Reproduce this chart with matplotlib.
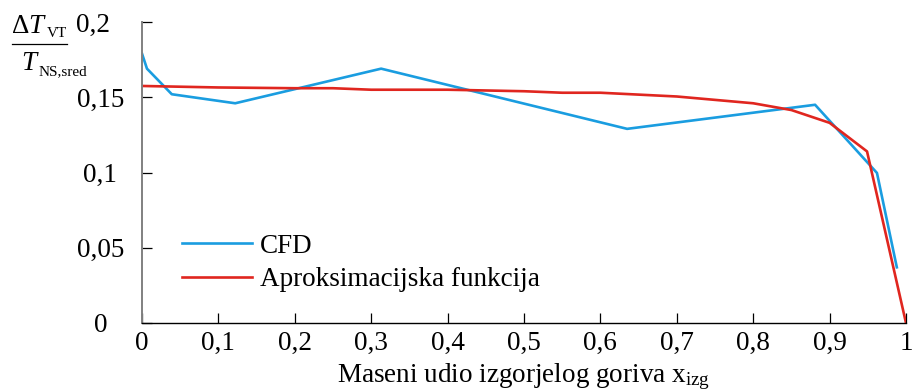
import matplotlib
matplotlib.use("Agg")
import matplotlib.pyplot as plt
from matplotlib.lines import Line2D
from matplotlib.ticker import FuncFormatter, FixedLocator
from matplotlib.transforms import ScaledTranslation

plt.rcParams['font.family'] = ['Liberation Serif', 'DejaVu Serif']
plt.rcParams['mathtext.fontset'] = 'custom'
plt.rcParams['mathtext.rm'] = 'Liberation Serif'
plt.rcParams['mathtext.it'] = 'Liberation Serif:italic'

# CFD results
cfd_x = [0.0, 0.0065, 0.039, 0.122, 0.313, 0.635, 0.881, 0.962, 0.988]
cfd_y = [0.179, 0.169, 0.152, 0.146, 0.169, 0.129, 0.145, 0.0997, 0.037]

# Approximation function
apx_x = [0.0, 0.1, 0.2, 0.25, 0.3, 0.4, 0.5, 0.55, 0.6, 0.7, 0.8, 0.85, 0.9, 0.949, 1.0]
apx_y = [0.1575, 0.1565, 0.156, 0.156, 0.155, 0.155, 0.154, 0.153, 0.153, 0.1505, 0.146, 0.1415, 0.133, 0.114, 0.0]

xticks = [0, 0.1, 0.2, 0.3, 0.4, 0.5, 0.6, 0.7, 0.8, 0.9, 1.0]
yticks = [0, 0.05, 0.1, 0.15, 0.2]

blue = '#1a9de0'
red = '#e0261f'
FS = 19.5
W, H = 915, 392

fig = plt.figure(figsize=(W / 100, H / 100), dpi=100)
ax = fig.add_axes([142/W, 1-323/H, (906-142)/W, (323-22)/H])

ax.plot(cfd_x, cfd_y, color=blue, lw=1.9, label='CFD')
ax.plot(apx_x, apx_y, color=red, lw=1.9, label='Aproksimacijska funkcija')

ax.set_xlim(0, 1)
ax.set_ylim(0, 0.2)
ax.xaxis.set_major_locator(FixedLocator(xticks))
ax.yaxis.set_major_locator(FixedLocator(yticks))

def comma(v, pos):
    return f'{v:g}'.replace('.', ',')

ax.xaxis.set_major_formatter(FuncFormatter(comma))
ax.yaxis.set_major_formatter(FuncFormatter(comma))

for s in ['top', 'right']:
    ax.spines[s].set_visible(False)
ax.spines['left'].set_color('#808080')
ax.spines['left'].set_linewidth(1.4)
ax.spines['bottom'].set_color('black')
ax.spines['bottom'].set_linewidth(1.0)

ax.tick_params(axis='both', direction='in', length=7, width=0.9, labelsize=FS, color='black')
ax.tick_params(axis='x', pad=6)
ax.tick_params(axis='y', pad=30)
for lab in ax.get_yticklabels():
    lab.set_horizontalalignment('center')

# top y label sits a little further left
top_tick = ax.yaxis.get_major_ticks()[-1]
top_tick.label1.set_transform(top_tick.label1.get_transform()
                              + ScaledTranslation(-7/100, 0, fig.dpi_scale_trans))

ax.set_xlabel(r'Maseni udio izgorjelog goriva x$_{\mathrm{izg}}$', fontsize=FS, labelpad=3.5)

# y-axis quantity written as a fraction: ΔT_VT / T_NS,sred
def px(x, y):
    return x / W, 1 - y / H

fig.text(*px(11, 33), r'$\Delta T$', fontsize=FS, va='baseline', ha='left')
fig.text(*px(47, 37), 'VT', fontsize=11, va='baseline', ha='left')
fig.add_artist(Line2D([12/W, 67/W], [1-44/H, 1-44/H], color='black', lw=0.9,
                      transform=fig.transFigure))
fig.text(*px(21, 70), r'$T$', fontsize=FS, va='baseline', ha='left')
fig.text(*px(39, 75), 'NS,sred', fontsize=11, va='baseline', ha='left')

leg = ax.legend(loc='upper left', bbox_to_anchor=(0.052, 0.296), frameon=False, fontsize=FS,
                handlelength=2.6, handletextpad=0.3, labelspacing=0.3, borderaxespad=0,
                borderpad=0)

fig.savefig('out.png', dpi=100)
